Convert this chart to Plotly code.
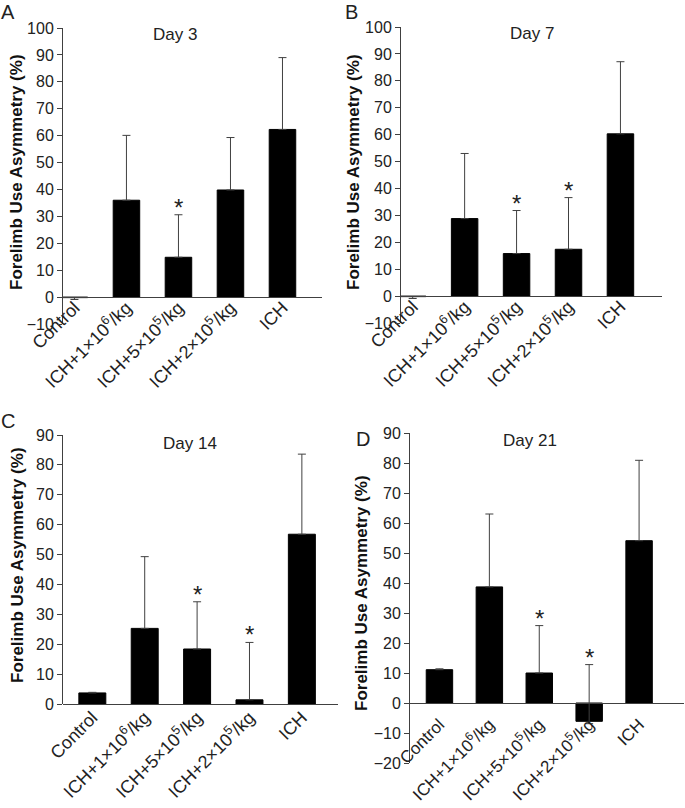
import plotly.graph_objects as go

W, H = 685, 808

categories = ["Control", "ICH+1e6", "ICH+5e5", "ICH+2e5", "ICH"]
tick_labels = ["Control", "ICH+1×10<sup>6</sup>/kg", "ICH+5×10<sup>5</sup>/kg",
               "ICH+2×10<sup>5</sup>/kg", "ICH"]

day3_mean = [-0.2, 36.0, 14.8, 39.8, 62.3]
day3_err_plus = [0.0, 24.1, 15.8, 19.5, 26.7]
day3_err_minus = [0.7, 0.0, 0.0, 0.0, 0.0]
day3_sig = [False, False, True, False, False]

day7_mean = [-0.2, 28.8, 15.8, 17.4, 60.3]
day7_err_plus = [0.0, 24.2, 16.0, 19.2, 26.8]
day7_err_minus = [0.7, 0.0, 0.0, 0.0, 0.0]
day7_sig = [False, False, True, True, False]

day14_mean = [3.7, 25.3, 18.4, 1.4, 56.8]
day14_err_plus = [0.2, 24.0, 15.8, 19.2, 26.8]
day14_err_minus = [0.0, 0.0, 0.0, 0.0, 0.0]
day14_sig = [False, False, True, True, False]

day21_mean = [11.1, 38.7, 10.0, -6.1, 54.1]
day21_err_plus = [0.3, 24.3, 15.8, 18.9, 26.8]
day21_err_minus = [0.0, 0.0, 0.0, 0.8, 0.0]
day21_sig = [False, False, True, True, False]

panel_titles = ["Day 3", "Day 7", "Day 14", "Day 21"]
panel_letters = ["A", "B", "C", "D"]
y_title = "Forelimb Use Asymmetry (%)"

FONT = "Liberation Sans, Arial, sans-serif"
AXC = "#404040"

# layout geometry in pixels (left, right, top, bottom), y range, x range
panels = [
    dict(mean=day3_mean, ep=day3_err_plus, em=day3_err_minus, sig=day3_sig,
         px=(63, 322), py=(28, 324), yr=(-10, 100), xr=(-0.22, 4.76), bw=0.51,
         title=(175, 34), letter=(8, 12), ytitle=(17, 172), stand=-8, xfs=18),
    dict(mean=day7_mean, ep=day7_err_plus, em=day7_err_minus, sig=day7_sig,
         px=(401, 662), py=(27, 323), yr=(-10, 100), xr=(-0.225, 4.80), bw=0.51,
         title=(532, 33), letter=(351, 12), ytitle=(354, 172), stand=-8, xfs=18),
    dict(mean=day14_mean, ep=day14_err_plus, em=day14_err_minus, sig=day14_sig,
         px=(63, 338), py=(435, 704), yr=(0, 90), xr=(-0.56, 4.69), bw=0.515,
         title=(190, 443), letter=(8, 421), ytitle=(17, 565), stand=-5, xfs=18),
    dict(mean=day21_mean, ep=day21_err_plus, em=day21_err_minus, sig=day21_sig,
         px=(410, 684), py=(433, 763), yr=(-20, 90), xr=(-0.59, 4.90), bw=0.53,
         title=(530, 440), letter=(363, 439), ytitle=(361, 593), stand=4, xfs=17),
]

fig = go.Figure()
annotations = []
layout = {}

for i, p in enumerate(panels):
    n = "" if i == 0 else str(i + 1)
    xa, ya = "x" + n, "y" + n
    fig.add_trace(go.Bar(
        x=categories, y=p["mean"], xaxis=xa, yaxis=ya, width=p["bw"],
        marker=dict(color="black", line=dict(color="black", width=1)),
        error_y=dict(type="data", symmetric=False, array=p["ep"], arrayminus=p["em"],
                     color=AXC, thickness=1, width=4),
        showlegend=False, hoverinfo="skip"))
    x0, x1 = p["px"]
    t0, b0 = p["py"]
    ylo, yhi = p["yr"]
    dom_y = [1 - b0 / H, 1 - t0 / H]
    zero_pos = dom_y[0] + (0 - ylo) / (yhi - ylo) * (dom_y[1] - dom_y[0])
    layout["xaxis" + n] = dict(
        domain=[x0 / W, x1 / W], anchor="free", position=zero_pos, automargin=False,
        type="category", categoryarray=categories, range=list(p["xr"]),
        tickvals=categories, ticktext=tick_labels, tickangle=-45,
        showline=True, linecolor=AXC, linewidth=1, ticks="",
        showgrid=False, zeroline=False, ticklabelstandoff=p["stand"],
        tickfont=dict(family=FONT, size=p["xfs"], color="#222"))
    layout["yaxis" + n] = dict(
        domain=dom_y, anchor=xa, range=[ylo, yhi], dtick=10, tick0=0, automargin=False,
        showline=True, linecolor=AXC, linewidth=1, ticks="outside", ticklen=5,
        tickcolor=AXC, showgrid=False, zeroline=False,
        tickfont=dict(family=FONT, size=16, color="#222"))
    tx, ty = p["title"]
    annotations.append(dict(text=panel_titles[i], x=tx / W, y=1 - ty / H, xref="paper",
                            yref="paper", showarrow=False, xanchor="center", yanchor="middle",
                            font=dict(family=FONT, size=17, color="#222")))
    lx, ly = p["letter"]
    annotations.append(dict(text=panel_letters[i], x=lx / W, y=1 - ly / H, xref="paper",
                            yref="paper", showarrow=False, xanchor="center", yanchor="middle",
                            font=dict(family=FONT, size=20, color="#222")))
    yx, yy = p["ytitle"]
    annotations.append(dict(text="<b>" + y_title + "</b>", x=yx / W, y=1 - yy / H,
                            xref="paper", yref="paper", showarrow=False, textangle=-90,
                            xanchor="center", yanchor="middle",
                            font=dict(family=FONT, size=17, color="#111")))
    for c, m, e, s in zip(categories, p["mean"], p["ep"], p["sig"]):
        if s:
            annotations.append(dict(text="*", x=c, y=m + e, xref=xa, yref=ya,
                                    showarrow=False, xanchor="center", yanchor="bottom",
                                    yshift=-8, font=dict(family=FONT, size=24, color="#222")))

fig.update_layout(
    width=W, height=H, margin=dict(l=0, r=0, t=0, b=0, autoexpand=False),
    paper_bgcolor="white", plot_bgcolor="white",
    annotations=annotations, **layout)

fig.write_html("out.html", config={"displayModeBar": False},
               post_script="document.body.style.margin='0';document.body.style.overflow='hidden';")
